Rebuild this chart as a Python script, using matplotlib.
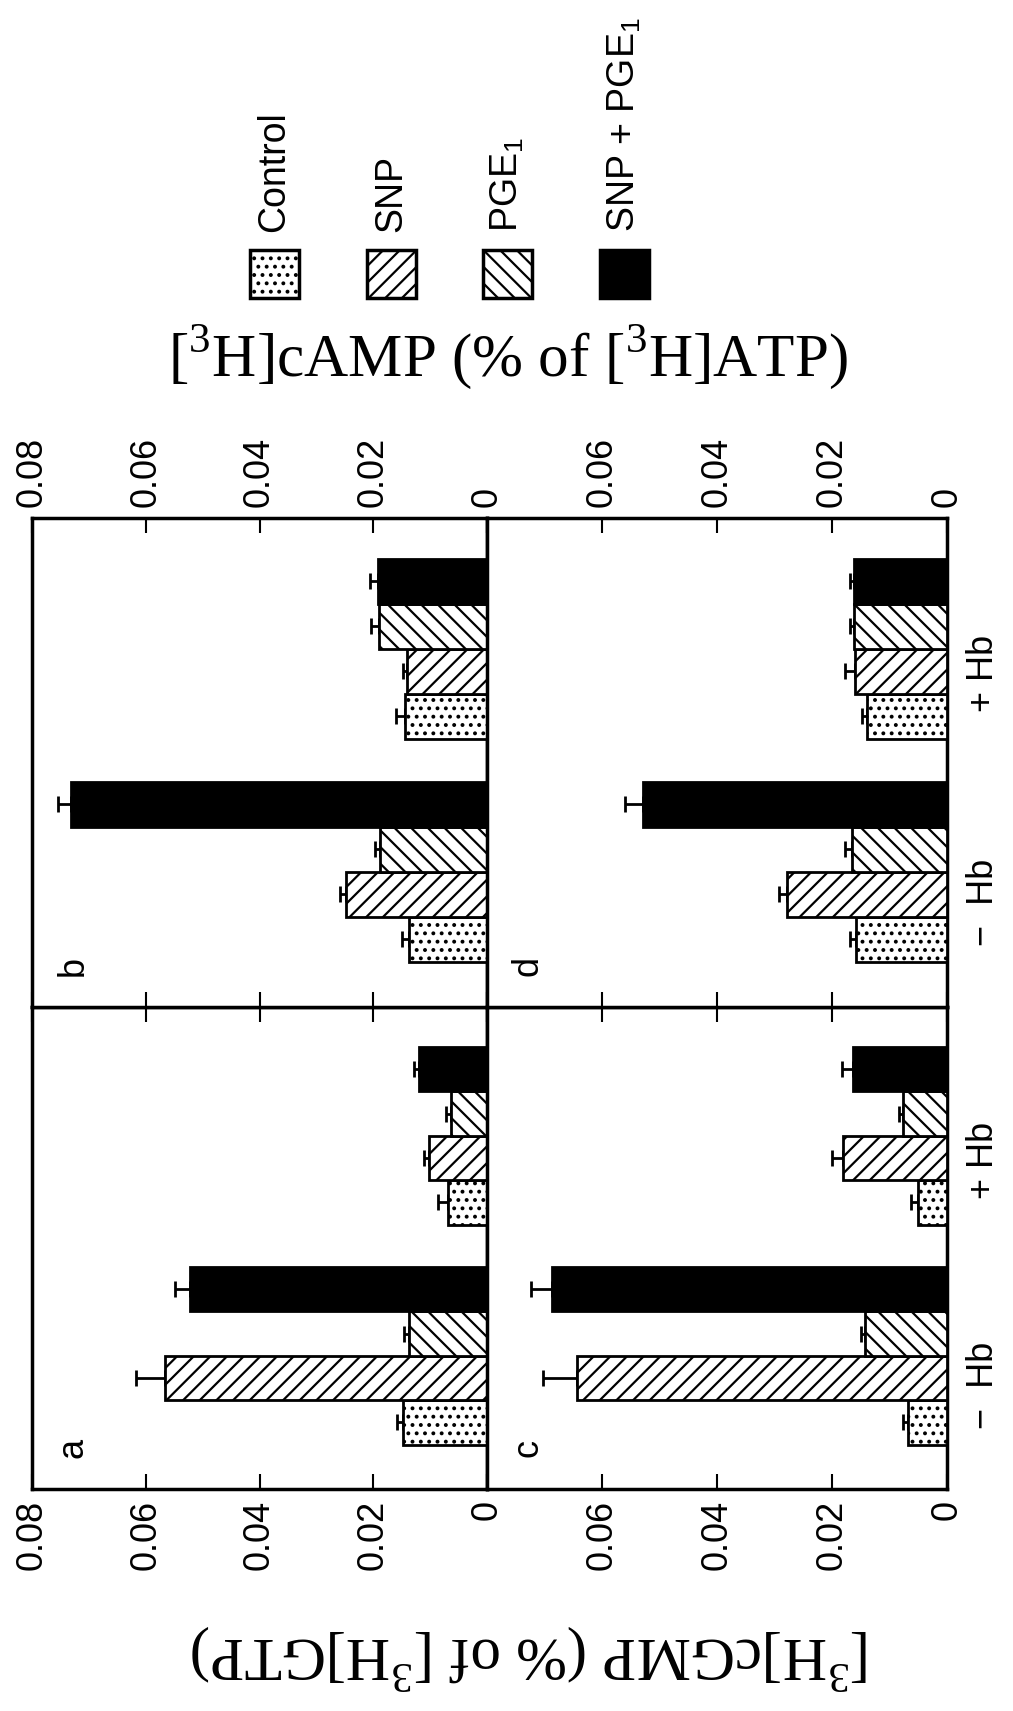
import matplotlib
matplotlib.use('Agg')
import matplotlib.pyplot as plt
from matplotlib.patches import Rectangle

plt.rcParams['font.family'] = ['Liberation Sans', 'DejaVu Sans']
plt.rcParams['mathtext.fontset'] = 'custom'
plt.rcParams['mathtext.rm'] = 'Liberation Serif'
plt.rcParams['mathtext.sf'] = 'Liberation Sans'
plt.rcParams['hatch.linewidth'] = 1.6
plt.rcParams['hatch.color'] = 'black'

treatments = ['Control', 'SNP', r'PGE$_\mathsf{1}$', r'SNP + PGE$_\mathsf{1}$']
hatches = ['..', '//', '\\\\', None]
faces = ['white', 'white', 'white', 'black']
groups = ['\u2212  Hb', '+ Hb']
ticks = [0, 0.02, 0.04, 0.06, 0.08]
tick_text = ['0', '0.02', '0.04', '0.06', '0.08']

# order in every list: -Hb (Control, SNP, PGE1, SNP+PGE1), then +Hb (same order)
cgmp_a = [0.0148, 0.0566, 0.0138, 0.0523, 0.0068, 0.0102, 0.0064, 0.0119]
cgmp_a_err = [0.0011, 0.0051, 0.0008, 0.0026, 0.0018, 0.0009, 0.0008, 0.0010]
camp_b = [0.0138, 0.0248, 0.0188, 0.0732, 0.0144, 0.0141, 0.0190, 0.0192]
camp_b_err = [0.0011, 0.0011, 0.0009, 0.0023, 0.0016, 0.0007, 0.0014, 0.0014]
cgmp_c = [0.0068, 0.0644, 0.0142, 0.0687, 0.0050, 0.0181, 0.0077, 0.0164]
cgmp_c_err = [0.0008, 0.0059, 0.0008, 0.0036, 0.0012, 0.0019, 0.0006, 0.0018]
camp_d = [0.0158, 0.0278, 0.0166, 0.0528, 0.0140, 0.0160, 0.0161, 0.0161]
camp_d_err = [0.0011, 0.0014, 0.0011, 0.0032, 0.0008, 0.0017, 0.0008, 0.0008]

# bar slots along the category axis (bar height = 1)
pos = [0, 1, 2, 3, 4.95, 5.95, 6.95, 7.95]
group_pos = [1.5, 6.45]

W, H = 1013, 1711
fig = plt.figure(figsize=(W / 100, H / 100), dpi=100)


def fx(px):
    return px / W


def fy(py):
    return 1 - py / H


x_left, x_mid, x_right = 32, 487, 947
y_top, y_mid, y_bot = 518, 1007, 1489

# legend and axis titles live on a pixel-space overlay
leg = fig.add_axes([0, 0, 1, 1])
leg.set_xlim(0, W)
leg.set_ylim(H, 0)
leg.axis('off')
for i, name in enumerate(treatments):
    x0 = 250 + i * 116.5
    leg.add_patch(Rectangle((x0, 250), 49, 48, facecolor=faces[i], edgecolor='black',
                            linewidth=2.5, hatch=hatches[i]))
    leg.text(x0 + 24.5, 232, name, rotation=90, ha='center', va='bottom', fontsize=27)

fig.text(fx(508), fy(357), r'[$^{3}$H]cAMP (% of [$^{3}$H]ATP)', family='Liberation Serif',
         fontsize=44, ha='center', va='center')
fig.text(fx(531), fy(1657), r'[$^{3}$H]cGMP (% of [$^{3}$H]GTP)', family='Liberation Serif',
         fontsize=44, ha='center', va='center', rotation=180)


def draw_panel(rect, vals, errs, letter, label_side, right_col):
    ax = fig.add_axes(rect)
    for k in range(4):
        ys = [pos[k], pos[k + 4]]
        xs = [vals[k], vals[k + 4]]
        ax.barh(ys, xs, height=1.0, color=faces[k], edgecolor='black', linewidth=2,
                hatch=hatches[k], zorder=3)
        ax.errorbar(xs, ys, xerr=[[0, 0], [errs[k], errs[k + 4]]], fmt='none', ecolor='black',
                    elinewidth=2, capsize=5.5, capthick=2, zorder=2)
    ax.set_xlim(0.08, 0)
    ax.set_ylim(-1.5, 9.35)
    ax.set_xticks(ticks)
    ax.set_xticklabels(tick_text[:-1] + [''] if right_col else tick_text)
    ax.tick_params(axis='x', direction='in', top=True, bottom=True, length=11, width=1.5,
                   labelsize=26, pad=8, labelrotation=90,
                   labeltop=(label_side == 'top'), labelbottom=(label_side == 'bottom'))
    if right_col:
        ax.yaxis.tick_right()
        ax.set_yticks(group_pos)
        ax.set_yticklabels(groups)
        ax.tick_params(axis='y', length=0, pad=14, labelsize=26, labelrotation=90)
    else:
        ax.set_yticks([])
    for sp in ax.spines.values():
        sp.set_linewidth(2.5)
    ax.annotate(letter, xy=(0, 0), xycoords='axes fraction', xytext=(29.5, 29.5),
                textcoords='offset points', rotation=90, ha='center', va='center', fontsize=26)
    return ax


draw_panel([fx(x_left), fy(y_bot), fx(x_mid) - fx(x_left), fy(y_mid) - fy(y_bot)],
           cgmp_a, cgmp_a_err, 'a', 'bottom', False)
draw_panel([fx(x_left), fy(y_mid), fx(x_mid) - fx(x_left), fy(y_top) - fy(y_mid)],
           camp_b, camp_b_err, 'b', 'top', False)
draw_panel([fx(x_mid), fy(y_bot), fx(x_right) - fx(x_mid), fy(y_mid) - fy(y_bot)],
           cgmp_c, cgmp_c_err, 'c', 'bottom', True)
draw_panel([fx(x_mid), fy(y_mid), fx(x_right) - fx(x_mid), fy(y_top) - fy(y_mid)],
           camp_d, camp_d_err, 'd', 'top', True)

fig.savefig('out.png', dpi=100)
